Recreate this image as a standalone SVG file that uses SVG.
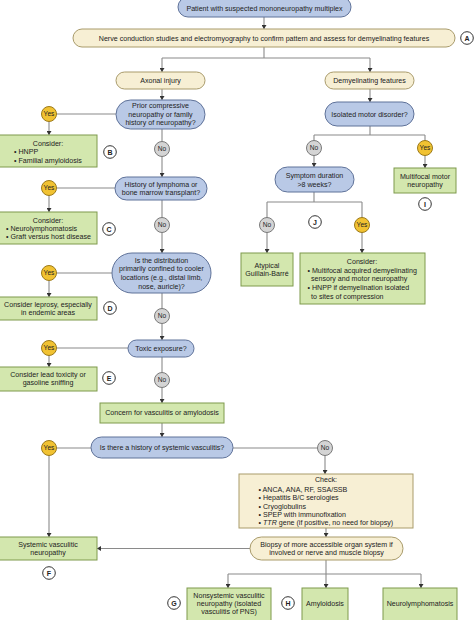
<svg xmlns="http://www.w3.org/2000/svg" width="474" height="620" viewBox="0 0 474 620">
<defs>
<marker id="ah" markerUnits="userSpaceOnUse" markerWidth="5" markerHeight="5" refX="4" refY="2.5" orient="auto">
<path d="M0,0 L4,2.5 L0,5 Z" fill="#333"/>
</marker>
<style>
text{font-family:"Liberation Sans",Arial,sans-serif;font-size:7.1px;fill:#222}
.c{text-anchor:middle}
.yn{text-anchor:middle;font-size:6.6px}
.blue{fill:#b9c9e6;stroke:#5f7299;stroke-width:1}
.cream{fill:#f7efd4;stroke:#a99b6b;stroke-width:1}
.green{fill:#d3e7ae;stroke:#7e9a4c;stroke-width:1}
.yes{fill:#f1c232;stroke:#9c7a1a;stroke-width:1}
.no{fill:#d4d4d4;stroke:#7a7a7a;stroke-width:1}
.lab{fill:#fff;stroke:#333;stroke-width:1}
.lt{font-weight:bold;font-size:7px;text-anchor:middle}
.ln{fill:none;stroke:#8a8a8a;stroke-width:1.1}
.ar{fill:none;stroke:#8a8a8a;stroke-width:1.1;marker-end:url(#ah)}
</style>
</defs>
<rect width="474" height="620" fill="#fff"/>

<g id="connectors">
<path class="ar" d="M264,17 V29"/>
<path class="ln" d="M264,47 V58 M162,58 H370"/>
<path class="ar" d="M162,58 V72"/>
<path class="ar" d="M370,58 V72"/>
<path class="ar" d="M162,89 V100"/>
<path class="ar" d="M370,89 V102"/>
<path class="ln" d="M116,114 H56"/>
<path class="ar" d="M49,121 V135"/>
<path class="ln" d="M162,129 V142"/>
<path class="ar" d="M162,156 V177"/>
<path class="ln" d="M115,188 H56"/>
<path class="ar" d="M49,195 V212"/>
<path class="ln" d="M162,200 V218"/>
<path class="ar" d="M162,232 V253"/>
<path class="ln" d="M112,273 H56"/>
<path class="ar" d="M49,280 V297"/>
<path class="ln" d="M162,293 V309"/>
<path class="ar" d="M162,323 V340"/>
<path class="ln" d="M128,348 H56"/>
<path class="ar" d="M49,355 V367"/>
<path class="ln" d="M162,357 V373"/>
<path class="ar" d="M162,387 V403"/>
<path class="ar" d="M162,423 V437"/>
<path class="ln" d="M91,448 H56"/>
<path class="ar" d="M49,455 V537"/>
<path class="ln" d="M233,448 H318"/>
<path class="ar" d="M325,455 V474"/>
<path class="ar" d="M326,528 V537"/>
<path class="ar" d="M250,548.5 H97"/>
<path class="ar" d="M326,560 V588"/>
<path class="ln" d="M228,574 H421"/>
<path class="ar" d="M228,574 V588"/>
<path class="ar" d="M421,574 V588"/>
<path class="ln" d="M370,126 V135 M314,135 H425 M314,135 V141 M425,135 V141"/>
<path class="ar" d="M314,155 V167"/>
<path class="ar" d="M425,155 V168"/>
<path class="ln" d="M314,192 V202 M267,202 H362 M267,202 V218 M362,202 V218"/>
<path class="ar" d="M267,232 V253"/>
<path class="ar" d="M362,232 V253"/>
</g>

<g id="patient">
<rect class="blue" x="178" y="-3" width="173" height="20" rx="10"/>
<text class="c" x="264.5" y="11.4">Patient with suspected mononeuropathy multiplex</text>
</g>
<g id="ncs">
<rect class="cream" x="73" y="29" width="382" height="18" rx="9"/>
<text class="c" x="264" y="40.5">Nerve conduction studies and electromyography to confirm pattern and assess for demyelinating features</text>
</g>
<g id="labelA"><circle class="lab" cx="467" cy="38" r="6.3"/><text class="lt" x="467" y="40.5">A</text></g>

<g id="axonal">
<rect class="cream" x="116" y="72" width="89" height="17" rx="8.5"/>
<text class="c" x="160.5" y="83.1">Axonal injury</text>
</g>
<g id="demyel">
<rect class="cream" x="325" y="72" width="89" height="17" rx="8.5"/>
<text class="c" x="369.5" y="83.1">Demyelinating features</text>
</g>

<g id="prior">
<rect class="blue" x="116" y="100" width="89" height="29" rx="14.5"/>
<text class="c" x="160.5" y="108.2">Prior compressive</text>
<text class="c" x="160.5" y="116.8">neuropathy or family</text>
<text class="c" x="160.5" y="125.2">history of neuropathy?</text>
</g>
<g id="yes1"><circle class="yes" cx="49" cy="114" r="7.5"/><text class="yn" x="49" y="116.4">Yes</text></g>
<g id="considerB">
<rect class="green" x="-1" y="135" width="98" height="32"/>
<text class="c" x="48" y="145.8">Consider:</text>
<text x="14" y="154.2">• HNPP</text>
<text x="14" y="162.5">• Familial amyloidosis</text>
</g>
<g id="labelB"><circle class="lab" cx="110" cy="152" r="6.3"/><text class="lt" x="110" y="154.5">B</text></g>
<g id="no1"><circle class="no" cx="162" cy="149" r="7.5"/><text class="yn" x="162" y="151.4">No</text></g>

<g id="lymphoma">
<rect class="blue" x="115" y="177" width="92" height="23" rx="11.5"/>
<text class="c" x="161" y="186.8">History of lymphoma or</text>
<text class="c" x="161" y="194.8">bone marrow transplant?</text>
</g>
<g id="yes2"><circle class="yes" cx="49" cy="188" r="7.5"/><text class="yn" x="49" y="190.4">Yes</text></g>
<g id="considerC">
<rect class="green" x="-1" y="212" width="98" height="32"/>
<text class="c" x="48" y="222.5">Consider:</text>
<text x="6" y="230.8">• Neurolymphomatosis</text>
<text x="6" y="239.2">• Graft versus host disease</text>
</g>
<g id="labelC"><circle class="lab" cx="109" cy="229" r="6.3"/><text class="lt" x="109" y="231.5">C</text></g>
<g id="no2"><circle class="no" cx="162" cy="225" r="7.5"/><text class="yn" x="162" y="227.4">No</text></g>

<g id="distribution">
<rect class="blue" x="112" y="253" width="99" height="40" rx="20"/>
<text class="c" x="161.5" y="262.5">Is the distribution</text>
<text class="c" x="161.5" y="270.8">primarily confined to cooler</text>
<text class="c" x="161.5" y="279.8">locations (e.g., distal limb,</text>
<text class="c" x="161.5" y="288.5">nose, auricle)?</text>
</g>
<g id="yes3"><circle class="yes" cx="49" cy="273" r="7.5"/><text class="yn" x="49" y="275.4">Yes</text></g>
<g id="leprosy">
<rect class="green" x="-1" y="297" width="98" height="23"/>
<text class="c" x="48" y="306.5">Consider leprosy, especially</text>
<text class="c" x="48" y="315">in endemic areas</text>
</g>
<g id="labelD"><circle class="lab" cx="110" cy="308" r="6.3"/><text class="lt" x="110" y="310.5">D</text></g>
<g id="no3"><circle class="no" cx="162" cy="316" r="7.5"/><text class="yn" x="162" y="318.4">No</text></g>

<g id="toxic">
<rect class="blue" x="128" y="340" width="66" height="17" rx="8.5"/>
<text class="c" x="161" y="350.8">Toxic exposure?</text>
</g>
<g id="yes4"><circle class="yes" cx="49" cy="348" r="7.5"/><text class="yn" x="49" y="350.4">Yes</text></g>
<g id="lead">
<rect class="green" x="-1" y="367" width="98" height="24"/>
<text class="c" x="48" y="376.8">Consider lead toxicity or</text>
<text class="c" x="48" y="384.8">gasoline sniffing</text>
</g>
<g id="labelE"><circle class="lab" cx="109" cy="378" r="6.3"/><text class="lt" x="109" y="380.5">E</text></g>
<g id="no4"><circle class="no" cx="162" cy="380" r="7.5"/><text class="yn" x="162" y="382.4">No</text></g>

<g id="concern">
<rect class="green" x="100" y="403" width="124" height="20"/>
<text class="c" x="162" y="415.2">Concern for vasculitis or amylodosis</text>
</g>
<g id="sysvasc">
<rect class="blue" x="91" y="437" width="142" height="21" rx="10.5"/>
<text class="c" x="162" y="450.2">Is there a history of systemic vasculitis?</text>
</g>
<g id="yes5"><circle class="yes" cx="49" cy="448" r="7.5"/><text class="yn" x="49" y="450.4">Yes</text></g>
<g id="no5"><circle class="no" cx="325" cy="448" r="7.5"/><text class="yn" x="325" y="450.4">No</text></g>

<g id="check">
<rect class="cream" x="239" y="474" width="174" height="54"/>
<text class="c" x="326" y="481.8">Check:</text>
<text x="258.5" y="491.5">• ANCA, ANA, RF, SSA/SSB</text>
<text x="258.5" y="500.2">• Hepatitis B/C serologies</text>
<text x="258.5" y="508.5">• Cryoglobulins</text>
<text x="258.5" y="516.8">• SPEP with immunofixation</text>
<text x="258.5" y="525.2">• <tspan font-style="italic">TTR</tspan> gene (if positive, no need for biopsy)</text>
</g>
<g id="biopsy">
<rect class="cream" x="250" y="537" width="153" height="23" rx="11.5"/>
<text class="c" x="326.5" y="546.5">Biopsy of more accessible organ system if</text>
<text class="c" x="326.5" y="554.8">involved or nerve and muscle biopsy</text>
</g>
<g id="systemicNeuro">
<rect class="green" x="-1" y="537" width="98" height="23"/>
<text class="c" x="48" y="546.5">Systemic vasculitic</text>
<text class="c" x="48" y="554.8">neuropathy</text>
</g>
<g id="labelF"><circle class="lab" cx="49" cy="573" r="6.3"/><text class="lt" x="49" y="575.5">F</text></g>

<g id="nonsystemic">
<rect class="green" x="187" y="588" width="84" height="40"/>
<text class="c" x="229" y="597.5">Nonsystemic vasculitic</text>
<text class="c" x="229" y="605.8">neuropathy (isolated</text>
<text class="c" x="229" y="614.2">vasculitis of PNS)</text>
</g>
<g id="labelG"><circle class="lab" cx="174" cy="603" r="6.3"/><text class="lt" x="174" y="605.5">G</text></g>
<g id="amyloidosis">
<rect class="green" x="302" y="588" width="46" height="40"/>
<text class="c" x="325" y="605.8">Amyloidosis</text>
</g>
<g id="labelH"><circle class="lab" cx="288" cy="603" r="6.3"/><text class="lt" x="288" y="605.5">H</text></g>
<g id="neurolymph">
<rect class="green" x="383" y="588" width="74" height="40"/>
<text class="c" x="420" y="605.8">Neurolymphomatosis</text>
</g>

<g id="isolated">
<rect class="blue" x="325" y="102" width="89" height="24" rx="12"/>
<text class="c" x="369.5" y="116.7">Isolated motor disorder?</text>
</g>
<g id="no6"><circle class="no" cx="314" cy="148" r="7.5"/><text class="yn" x="314" y="150.4">No</text></g>
<g id="yes6"><circle class="yes" cx="425" cy="148" r="7.5"/><text class="yn" x="425" y="150.4">Yes</text></g>
<g id="symptom">
<rect class="blue" x="275" y="167" width="79" height="25" rx="12.5"/>
<text class="c" x="314.5" y="177.5">Symptom duration</text>
<text class="c" x="314.5" y="186.5">&gt;8 weeks?</text>
</g>
<g id="mmn">
<rect class="green" x="394" y="168" width="62" height="25"/>
<text class="c" x="425" y="178.5">Multifocal motor</text>
<text class="c" x="425" y="186.8">neuropathy</text>
</g>
<g id="labelI"><circle class="lab" cx="425" cy="204" r="6.3"/><text class="lt" x="425" y="206.5">I</text></g>
<g id="labelJ"><circle class="lab" cx="315" cy="222" r="6.3"/><text class="lt" x="315" y="224.5">J</text></g>
<g id="no7"><circle class="no" cx="267" cy="225" r="7.5"/><text class="yn" x="267" y="227.4">No</text></g>
<g id="yes7"><circle class="yes" cx="362" cy="225" r="7.5"/><text class="yn" x="362" y="227.4">Yes</text></g>
<g id="atypical">
<rect class="green" x="241" y="253" width="52" height="33"/>
<text class="c" x="267" y="267.5">Atypical</text>
<text class="c" x="267" y="275.8">Guillain-Barré</text>
</g>
<g id="considerJ">
<rect class="green" x="300" y="253" width="125" height="51"/>
<text class="c" x="362" y="264.2">Consider:</text>
<text x="307.5" y="272.5">• Multifocal acquired demyelinating</text>
<text x="311" y="280.8">sensory and motor neuropathy</text>
<text x="307.5" y="289.8">• HNPP if demyelination isolated</text>
<text x="311" y="298.5">to sites of compression</text>
</g>
</svg>
